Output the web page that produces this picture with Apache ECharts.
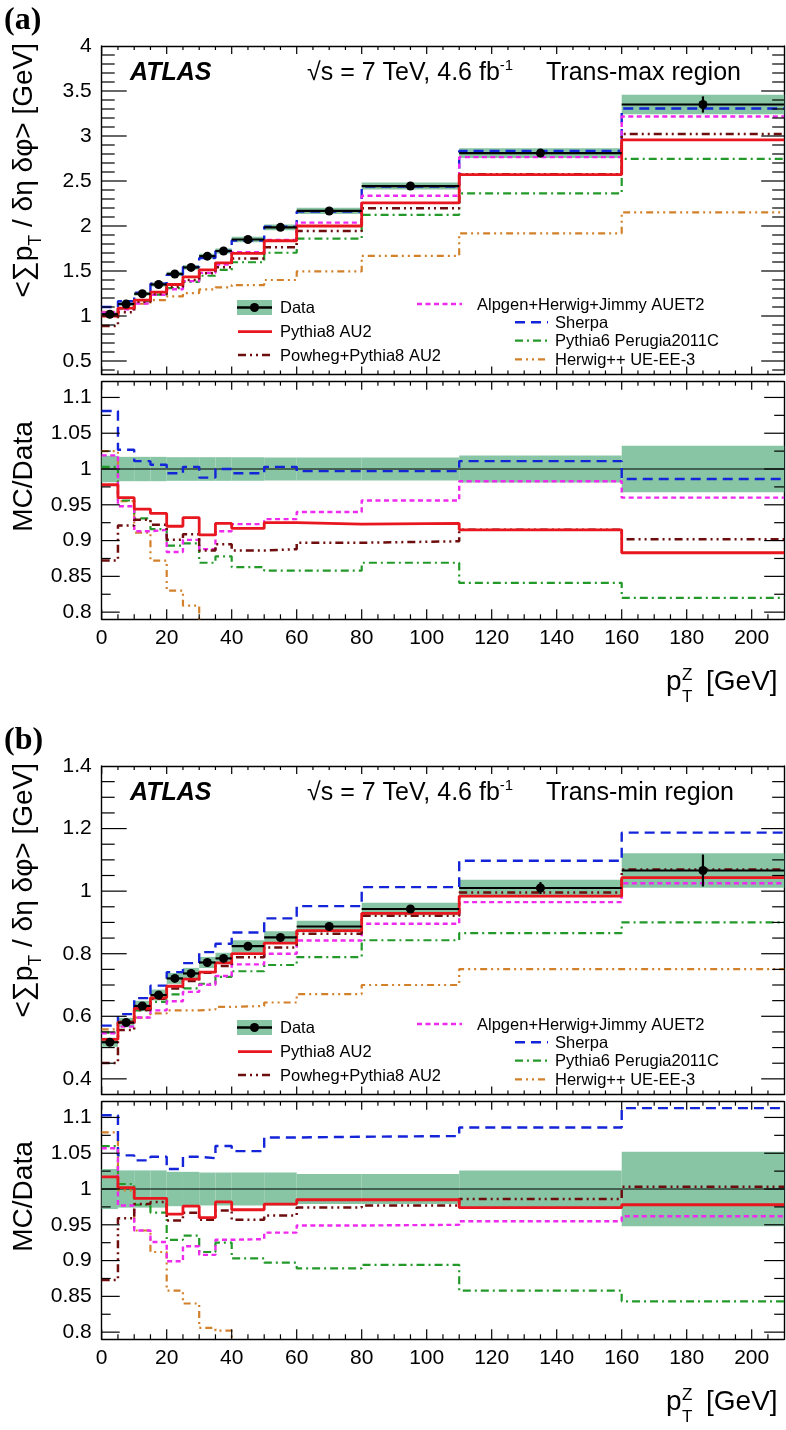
<!DOCTYPE html>
<html><head><meta charset="utf-8">
<script src="https://cdn.jsdelivr.net/npm/echarts@6/dist/echarts.min.js"></script>
<style>html,body{margin:0;padding:0;background:#fff}#c{width:786px;height:1430px}</style>
</head><body><div id="c"></div>
<script>
// ---------- DATA ----------
const binEdges = [0, 5, 10, 15, 20, 25, 30, 35, 40, 50, 60, 80, 110, 160, 210];
const mcNames = ['Pythia8 AU2', 'Powheg+Pythia8 AU2', 'Alpgen+Herwig+Jimmy AUET2', 'Sherpa', 'Pythia6 Perugia2011C', 'Herwig++ UE-EE-3'];

// Panel (a): Trans-max region
const dataA      = [1.02, 1.133, 1.247, 1.35, 1.467, 1.54, 1.665, 1.722, 1.85, 1.985, 2.167, 2.444, 2.81, 3.35];
const dataStatA  = [0.006, 0.006, 0.007, 0.007, 0.008, 0.009, 0.01, 0.011, 0.009, 0.011, 0.01, 0.014, 0.035, 0.09];
const dataBandA  = [0.0185, 0.017, 0.017, 0.017, 0.0165, 0.0165, 0.0165, 0.0165, 0.0165, 0.016, 0.016, 0.016, 0.019, 0.0325];
const pythia8A   = [0.998, 1.088, 1.177, 1.266, 1.350, 1.435, 1.512, 1.591, 1.696, 1.836, 2.0, 2.258, 2.571, 2.958];
const powhegA    = [0.889, 1.043, 1.158, 1.245, 1.322, 1.40, 1.475, 1.541, 1.639, 1.763, 1.944, 2.197, 2.575, 3.022];
const alpgenA    = [1.039, 1.074, 1.139, 1.235, 1.297, 1.388, 1.479, 1.572, 1.708, 1.846, 2.037, 2.336, 2.765, 3.216];
const sherpaA    = [1.10, 1.164, 1.26, 1.358, 1.458, 1.545, 1.645, 1.722, 1.839, 1.991, 2.160, 2.437, 2.835, 3.305];
const pythia6A   = [1.023, 1.083, 1.161, 1.237, 1.310, 1.380, 1.447, 1.512, 1.597, 1.703, 1.859, 2.124, 2.363, 2.745];
const herwigA    = [1.046, 1.082, 1.136, 1.177, 1.218, 1.255, 1.296, 1.319, 1.344, 1.40, 1.495, 1.667, 1.919, 2.152];
const pythia8RatA = [0.978, 0.96, 0.944, 0.938, 0.92, 0.932, 0.908, 0.924, 0.917, 0.925, 0.923, 0.924, 0.915, 0.883];
const powhegRatA  = [0.872, 0.921, 0.929, 0.922, 0.901, 0.909, 0.886, 0.895, 0.886, 0.888, 0.897, 0.899, 0.915, 0.902];
const alpgenRatA  = [1.019, 0.948, 0.913, 0.915, 0.884, 0.901, 0.888, 0.913, 0.923, 0.93, 0.94, 0.956, 0.983, 0.96];
const sherpaRatA  = [1.081, 1.027, 1.011, 1.006, 0.994, 1.003, 0.988, 1.0, 0.994, 1.003, 0.997, 0.997, 1.011, 0.986];
const pythia6RatA = [1.003, 0.956, 0.931, 0.916, 0.893, 0.896, 0.869, 0.878, 0.863, 0.858, 0.858, 0.869, 0.841, 0.82];
const herwigRatA  = [1.025, 0.955, 0.911, 0.872, 0.83, 0.809, 0.778, 0.766, 0.727, 0.705, 0.69, 0.682, 0.683, 0.642];

// Panel (b): Trans-min region
const dataB      = [0.517, 0.580, 0.633, 0.668, 0.721, 0.737, 0.772, 0.785, 0.824, 0.852, 0.887, 0.943, 1.01, 1.066];
const dataStatB  = [0.004, 0.004, 0.004, 0.005, 0.005, 0.005, 0.006, 0.006, 0.005, 0.006, 0.005, 0.008, 0.019, 0.051];
const dataBandB  = [0.028, 0.026, 0.026, 0.026, 0.024, 0.024, 0.023, 0.023, 0.023, 0.023, 0.021, 0.021, 0.026, 0.052];
const pythia8B   = [0.526, 0.581, 0.625, 0.659, 0.696, 0.719, 0.741, 0.771, 0.800, 0.834, 0.874, 0.929, 0.984, 1.043];
const powhegB    = [0.451, 0.556, 0.620, 0.656, 0.689, 0.713, 0.739, 0.761, 0.789, 0.820, 0.864, 0.921, 0.996, 1.069];
const alpgenB    = [0.546, 0.567, 0.596, 0.619, 0.648, 0.678, 0.701, 0.729, 0.766, 0.800, 0.842, 0.896, 0.965, 1.025];
const sherpaB    = [0.570, 0.607, 0.658, 0.698, 0.741, 0.770, 0.805, 0.832, 0.868, 0.913, 0.952, 1.013, 1.097, 1.187];
const pythia6B   = [0.548, 0.584, 0.619, 0.646, 0.670, 0.689, 0.704, 0.726, 0.744, 0.764, 0.789, 0.843, 0.866, 0.900];
const herwigB    = [0.558, 0.579, 0.596, 0.609, 0.619, 0.619, 0.622, 0.630, 0.633, 0.644, 0.671, 0.700, 0.751, 0.751];
const pythia8RatB = [1.017, 1.002, 0.987, 0.987, 0.965, 0.976, 0.960, 0.982, 0.971, 0.979, 0.985, 0.985, 0.974, 0.978];
const powhegRatB  = [0.873, 0.959, 0.979, 0.982, 0.956, 0.967, 0.957, 0.970, 0.957, 0.963, 0.974, 0.977, 0.986, 1.003];
const alpgenRatB  = [1.057, 0.977, 0.942, 0.926, 0.899, 0.920, 0.908, 0.929, 0.930, 0.939, 0.949, 0.950, 0.955, 0.962];
const sherpaRatB  = [1.103, 1.047, 1.040, 1.045, 1.028, 1.045, 1.043, 1.060, 1.053, 1.072, 1.073, 1.074, 1.086, 1.113];
const pythia6RatB = [1.060, 1.007, 0.978, 0.967, 0.929, 0.935, 0.912, 0.925, 0.903, 0.897, 0.889, 0.894, 0.858, 0.843];
const herwigRatB  = [1.079, 0.998, 0.942, 0.912, 0.858, 0.840, 0.806, 0.802, 0.768, 0.756, 0.756, 0.742, 0.744, 0.705];

// Tick labels
const xMajorTicks = [0, 20, 40, 60, 80, 100, 120, 140, 160, 180, 200];
const yMajorTopA = [0.5, 1, 1.5, 2, 2.5, 3, 3.5, 4];
const yMajorTopB = [0.4, 0.6, 0.8, 1, 1.2, 1.4];
const yMajorRatio = [0.8, 0.85, 0.9, 0.95, 1, 1.05, 1.1];

// ---------- STYLE ----------
const FONT = 'Liberation Sans, Arial, Helvetica, sans-serif';
const BAND = '#87c5a4';
const mcStyle = {
  'Pythia8 AU2': {color: '#e8161e', width: 2.8, dash: 'solid'},
  'Powheg+Pythia8 AU2': {color: '#6e0d0d', width: 2.5, dash: [8, 4, 2, 4, 2, 4]},
  'Alpgen+Herwig+Jimmy AUET2': {color: '#ee2aee', width: 2.4, dash: [5, 3.5]},
  'Sherpa': {color: '#1424d8', width: 2.4, dash: [10, 6]},
  'Pythia6 Perugia2011C': {color: '#23992a', width: 2.2, dash: [8, 4, 2, 4]},
  'Herwig++ UE-EE-3': {color: '#d2802a', width: 2.2, dash: [7, 4, 2, 4, 2, 4]}
};
// tick lengths (px): [x-bottom major, minor, x-top major, minor, y-left major, minor, y-right major, minor]
const TICK_TOP = [8, 4, 8, 4, 25, 13, 23, 12];
const TICK_RATIO = [10, 5, 8, 4, 18, 9, 20, 10];

const panels = [
  {data: dataA, stat: dataStatA, band: dataBandA,
   top: [pythia8A, powhegA, alpgenA, sherpaA, pythia6A, herwigA],
   ratio: [pythia8RatA, powhegRatA, alpgenRatA, sherpaRatA, pythia6RatA, herwigRatA],
   yTop: [0.35, 4], yMajor: yMajorTopA, minorStep: 0.1, region: 'Trans-max region', tag: '(a)', dy: 0},
  {data: dataB, stat: dataStatB, band: dataBandB,
   top: [pythia8B, powhegB, alpgenB, sherpaB, pythia6B, herwigB],
   ratio: [pythia8RatB, powhegRatB, alpgenRatB, sherpaRatB, pythia6RatB, herwigRatB],
   yTop: [0.35, 1.4], yMajor: yMajorTopB, minorStep: 0.05, region: 'Trans-min region', tag: '(b)', dy: 720}
];
const X_RANGE = [0, 210];
const RATIO_RANGE = [0.79, 1.122];

function minorTicks(lo, hi, step, majors) {
  const out = [];
  const n0 = Math.ceil(lo / step - 1e-6), n1 = Math.floor(hi / step + 1e-6);
  for (let k = n0; k <= n1; k++) {
    const v = +(k * step).toFixed(4);
    if (v > lo + 1e-6 && v < hi - 1e-6 && !majors.some(m => Math.abs(m - v) < 1e-6)) out.push(v);
  }
  return out;
}
const xMinorTicks = minorTicks(0, 210, 5, xMajorTicks);
const fmt = v => String(+(+v).toFixed(3));

const grids = [], xAxes = [], yAxes = [], series = [], graphics = [];

function axis(g, pos, range, labelVals, showLab, margin) {
  return {type: 'value', gridIndex: g, position: pos, min: range[0], max: range[1],
    axisLine: {show: true, onZero: false, lineStyle: {color: '#000', width: 1.4}},
    axisTick: {show: false},
    axisLabel: {show: showLab, customValues: labelVals, formatter: fmt, margin: margin, fontSize: 21, fontFamily: FONT, color: '#000'},
    splitLine: {show: false}};
}

function histPoints(vals) {
  const pts = vals.map((v, i) => [binEdges[i], v]);
  pts.push([binEdges[vals.length], vals[vals.length - 1]]);
  return pts;
}

function renderBand(params, api) {
  const a = api.coord([api.value(0), api.value(3)]);
  const b = api.coord([api.value(1), api.value(2)]);
  return {type: 'rect', shape: {x: a[0], y: a[1], width: b[0] - a[0], height: b[1] - a[1]}, style: {fill: BAND}};
}
function renderData(params, api) {
  const x0 = api.value(0), x1 = api.value(1), v = api.value(4), s = api.value(5);
  const xc = (x0 + x1) / 2;
  const pL = api.coord([x0, v]), pR = api.coord([x1, v]);
  const pT = api.coord([xc, v + s]), pB = api.coord([xc, v - s]), pC = api.coord([xc, v]);
  return {type: 'group', children: [
    {type: 'line', shape: {x1: pL[0], y1: pL[1], x2: pR[0], y2: pR[1]}, style: {stroke: '#000', lineWidth: 2.2}},
    {type: 'line', shape: {x1: pT[0], y1: pT[1], x2: pB[0], y2: pB[1]}, style: {stroke: '#000', lineWidth: 2.2}},
    {type: 'circle', shape: {cx: pC[0], cy: pC[1], r: 4.5}, style: {fill: '#000'}}
  ]};
}
// Inward ROOT-style ticks on all four sides, positioned through the axes' scales
function makeTickRenderer(yRange, len) {
  return function (params, api) {
    const kind = api.value(2), major = api.value(3) === 1;
    const tick = {stroke: '#000', lineWidth: 1.2};
    if (kind === 0) {
      const v = api.value(0);
      const b = api.coord([v, yRange[0]]), t = api.coord([v, yRange[1]]);
      const lb = major ? len[0] : len[1], lt = major ? len[2] : len[3];
      return {type: 'group', children: [
        {type: 'line', shape: {x1: b[0], y1: b[1], x2: b[0], y2: b[1] - lb}, style: tick},
        {type: 'line', shape: {x1: t[0], y1: t[1], x2: t[0], y2: t[1] + lt}, style: tick}]};
    }
    const v = api.value(1);
    const l = api.coord([X_RANGE[0], v]), r = api.coord([X_RANGE[1], v]);
    const ll = major ? len[4] : len[5], lr = major ? len[6] : len[7];
    return {type: 'group', children: [
      {type: 'line', shape: {x1: l[0], y1: l[1], x2: l[0] + ll, y2: l[1]}, style: tick},
      {type: 'line', shape: {x1: r[0], y1: r[1], x2: r[0] - lr, y2: r[1]}, style: tick}]};
  };
}
function tickRows(yRange, yMaj, yMin) {
  const rows = [];
  xMajorTicks.forEach(v => rows.push([v, yRange[0], 0, 1]));
  xMinorTicks.forEach(v => rows.push([v, yRange[0], 0, 0]));
  yMaj.filter(v => v > yRange[0] && v < yRange[1]).forEach(v => rows.push([X_RANGE[0], v, 1, 1]));
  yMin.forEach(v => rows.push([X_RANGE[0], v, 1, 0]));
  return rows;
}

function txt(text, x, y, size, extra) {
  return {type: 'text', x: x, y: y, silent: true,
    style: Object.assign({text: text, fontSize: size, fontFamily: FONT, fill: '#000', textAlign: 'left', textVerticalAlign: 'middle'}, extra || {})};
}

panels.forEach((P, p) => {
  const dy = P.dy;
  const gTop = 2 * p, gRat = 2 * p + 1;
  grids.push({left: 101.7, top: 46 + dy, width: 682.5, height: 328.5});
  grids.push({left: 101.7, top: 381.7 + dy, width: 682.5, height: 237.6});

  xAxes.push(axis(gTop, 'bottom', X_RANGE, xMajorTicks, false, 8), axis(gTop, 'top', X_RANGE, xMajorTicks, false, 8));
  yAxes.push(axis(gTop, 'left', P.yTop, P.yMajor, true, 10), axis(gTop, 'right', P.yTop, P.yMajor, false, 10));
  xAxes.push(axis(gRat, 'bottom', X_RANGE, xMajorTicks, true, 8), axis(gRat, 'top', X_RANGE, xMajorTicks, false, 8));
  yAxes.push(axis(gRat, 'left', RATIO_RANGE, yMajorRatio, true, 10), axis(gRat, 'right', RATIO_RANGE, yMajorRatio, false, 10));

  const xiT = gTop * 2, xiR = gRat * 2;
  const topRows = P.data.map((d, i) => [binEdges[i], binEdges[i + 1], d * (1 - P.band[i]), d * (1 + P.band[i]), d, P.stat[i]]);
  const ratRows = P.band.map((r, i) => [binEdges[i], binEdges[i + 1], 1 - r, 1 + r]);
  const dims = ['x0', 'x1', 'lo', 'hi', 'v', 's'];
  series.push({type: 'custom', name: 'Data band', xAxisIndex: xiT, yAxisIndex: xiT, renderItem: renderBand,
    dimensions: dims, encode: {x: [0, 1], y: [2, 3]}, data: topRows, z: 1, silent: true, animation: false});
  series.push({type: 'custom', name: 'Data band', xAxisIndex: xiR, yAxisIndex: xiR, renderItem: renderBand,
    dimensions: dims.slice(0, 4), encode: {x: [0, 1], y: [2, 3]}, data: ratRows, z: 1, silent: true, animation: false});
  series.push({type: 'line', name: 'unity', xAxisIndex: xiR, yAxisIndex: xiR, data: [[0, 1], [210, 1]],
    symbol: 'none', lineStyle: {color: '#000', width: 1.2}, z: 2, silent: true, animation: false});
  for (let m = mcNames.length - 1; m >= 0; m--) {
    const st = mcStyle[mcNames[m]];
    const ls = {color: st.color, width: st.width, type: st.dash, cap: 'butt'};
    series.push({type: 'line', name: mcNames[m], xAxisIndex: xiT, yAxisIndex: xiT, data: histPoints(P.top[m]),
      step: 'end', symbol: 'none', clip: true, lineStyle: ls, itemStyle: {color: st.color}, z: 3, silent: true, animation: false});
    series.push({type: 'line', name: mcNames[m], xAxisIndex: xiR, yAxisIndex: xiR, data: histPoints(P.ratio[m]),
      step: 'end', symbol: 'none', clip: true, lineStyle: ls, itemStyle: {color: st.color}, z: 3, silent: true, animation: false});
  }
  series.push({type: 'custom', name: 'Data', xAxisIndex: xiT, yAxisIndex: xiT, renderItem: renderData,
    dimensions: dims, encode: {x: [0, 1], y: [4]}, data: topRows, z: 4, silent: true, animation: false});
  // ticks
  const yMinTop = minorTicks(P.yTop[0], P.yTop[1], P.minorStep, P.yMajor);
  const yMinRat = minorTicks(RATIO_RANGE[0], RATIO_RANGE[1], 0.025, yMajorRatio);
  series.push({type: 'custom', name: 'ticks', xAxisIndex: xiT, yAxisIndex: xiT, renderItem: makeTickRenderer(P.yTop, TICK_TOP),
    dimensions: ['x', 'y', 'k', 'm'], encode: {x: 0, y: 1}, data: tickRows(P.yTop, P.yMajor, yMinTop), z: 6, silent: true, animation: false});
  series.push({type: 'custom', name: 'ticks', xAxisIndex: xiR, yAxisIndex: xiR, renderItem: makeTickRenderer(RATIO_RANGE, TICK_RATIO),
    dimensions: ['x', 'y', 'k', 'm'], encode: {x: 0, y: 1}, data: tickRows(RATIO_RANGE, yMajorRatio, yMinRat), z: 6, silent: true, animation: false});

  // ---- texts ----
  graphics.push(txt(P.tag, 4, 21 + dy, 32, {fontFamily: 'Liberation Serif, Times New Roman, serif', fontWeight: 'bold'}));
  graphics.push(txt('ATLAS', 130, 73 + dy, 25, {fontWeight: 'bold', fontStyle: 'italic'}));
  graphics.push({type: 'text', x: 307, y: 73 + dy, silent: true, style: {
    text: '{m|√s = 7 TeV, 4.6 fb}{s|-1}', textAlign: 'left', textVerticalAlign: 'middle',
    rich: {m: {fontSize: 25, fontFamily: FONT, fill: '#000', lineHeight: 30},
           s: {fontSize: 15, fontFamily: FONT, fill: '#000', lineHeight: 15, verticalAlign: 'top'}}}});
  graphics.push(txt(P.region, 546, 73 + dy, 25));
  graphics.push({type: 'text', x: 24, y: 43 + dy, rotation: Math.PI / 2, silent: true, style: {
    text: '{m|<∑p}{s|T}{m| / δη δφ> [GeV]}', textAlign: 'right', textVerticalAlign: 'middle',
    rich: {m: {fontSize: 28, fontFamily: FONT, fill: '#000', lineHeight: 42},
           s: {fontSize: 18, fontFamily: FONT, fill: '#000', lineHeight: 18, verticalAlign: 'bottom'}}}});
  graphics.push({type: 'text', x: 24, y: 476.5 + dy, rotation: Math.PI / 2, silent: true, style: {
    text: 'MC/Data', fontSize: 28, fontFamily: FONT, fill: '#000', textAlign: 'center', textVerticalAlign: 'middle'}});
  graphics.push(txt('p', 666, 682.5 + dy, 28));
  graphics.push(txt('Z', 682, 675 + dy, 17));
  graphics.push(txt('T', 682, 697 + dy, 17));
  graphics.push(txt('[GeV]', 706, 682.5 + dy, 28));

  // ---- legend ----
  graphics.push({type: 'rect', silent: true, shape: {x: 237, y: 300 + dy, width: 35, height: 15}, style: {fill: BAND}});
  graphics.push({type: 'line', silent: true, shape: {x1: 237, y1: 307.5 + dy, x2: 272, y2: 307.5 + dy}, style: {stroke: '#000', lineWidth: 2.5}});
  graphics.push({type: 'circle', silent: true, shape: {cx: 254.5, cy: 307.5 + dy, r: 4.5}, style: {fill: '#000'}});
  graphics.push(txt('Data', 280, 308.5 + dy, 16.5));
  const legPos = {
    'Pythia8 AU2': [238, 272, 331.7, 280],
    'Powheg+Pythia8 AU2': [238, 272, 355, 280],
    'Alpgen+Herwig+Jimmy AUET2': [417, 462, 304, 477],
    'Sherpa': [515, 548, 322.3, 555],
    'Pythia6 Perugia2011C': [515, 548, 340.7, 555],
    'Herwig++ UE-EE-3': [515, 548, 359.3, 555]
  };
  mcNames.forEach(n => {
    const L = legPos[n], st = mcStyle[n];
    graphics.push({type: 'line', silent: true, shape: {x1: L[0], y1: L[2] + dy, x2: L[1], y2: L[2] + dy},
      style: {stroke: st.color, lineWidth: st.width, lineDash: st.dash === 'solid' ? null : st.dash}});
    graphics.push(txt(n, L[3], L[2] + 1 + dy, 16.5));
  });
});

const chart = echarts.init(document.getElementById('c'), null, {width: 786, height: 1430});
chart.setOption({
  backgroundColor: '#fff',
  animation: false,
  grid: grids,
  xAxis: xAxes,
  yAxis: yAxes,
  series: series,
  graphic: {elements: graphics}
});
</script>
</body></html>
